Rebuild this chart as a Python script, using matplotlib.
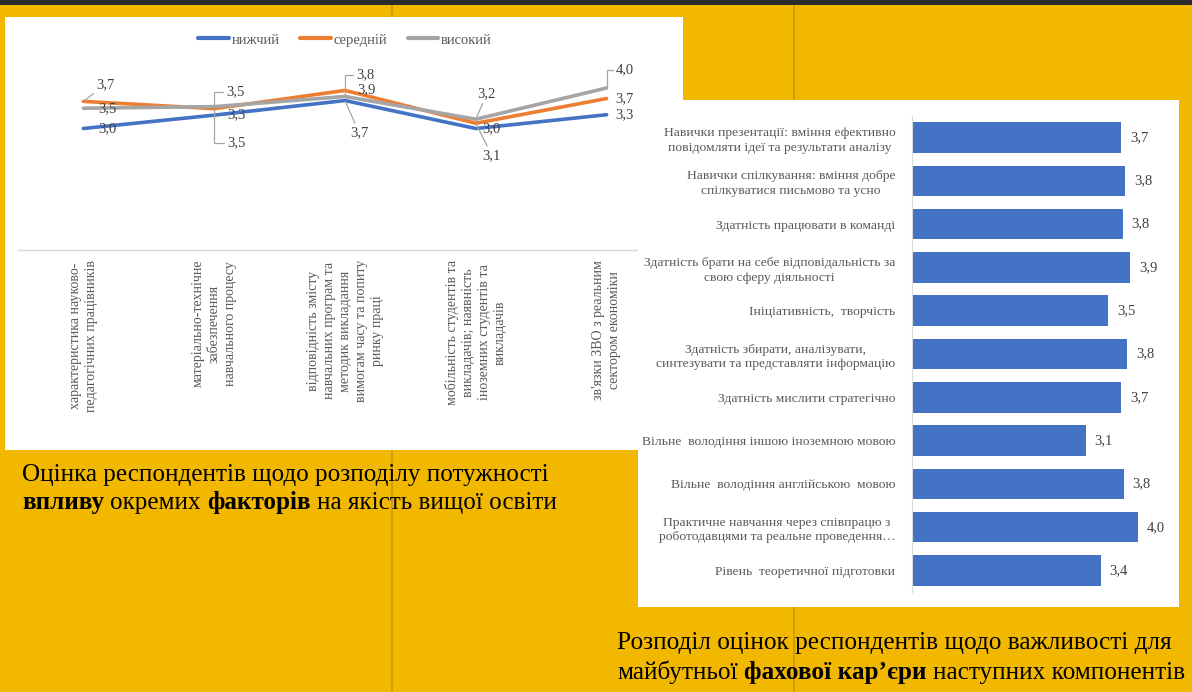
import matplotlib
matplotlib.use('Agg')
import matplotlib.pyplot as plt
from matplotlib.patches import Rectangle
from matplotlib.lines import Line2D

# slide size in pixels
W, H = 1192, 692

# ---- line chart: influence of factors on quality of higher education
factors = [
    "характеристика науково-\nпедагогічних працівників",
    "матеріально-технічне\nзабезпечення\nнавчального процесу",
    "відповідність змісту\nнавчальних програм та\nметодик викладання\nвимогам часу та попиту\nринку праці",
    "мобільність студентів та\nвикладачів; наявність\nіноземних студентів та\nвикладачів",
    "зв'язки ЗВО з реальним\nсектором економіки",
]
levels = ["нижчий", "середній", "високий"]
low = [3.0, 3.33, 3.69, 3.0, 3.34]
mid = [3.67, 3.49, 3.94, 3.13, 3.74]
high = [3.5, 3.54, 3.79, 3.23, 4.0]

# ---- bar chart: importance of components for future career
skills = [
    "Навички презентації: вміння ефективно\nповідомляти ідеї та результати аналізу",
    "Навички спілкування: вміння добре\nспілкуватися письмово та усно",
    "Здатність працювати в команді",
    "Здатність брати на себе відповідальність за\nсвою сферу діяльності",
    "Ініціативність,  творчість",
    "Здатність збирати, аналізувати,\nсинтезувати та представляти інформацію",
    "Здатність мислити стратегічно",
    "Вільне  володіння іншою іноземною мовою",
    "Вільне  володіння англійською  мовою",
    "Практичне навчання через співпрацю з\nроботодавцями та реальне проведення…",
    "Рівень  теоретичної підготовки",
]
importance = [3.73, 3.80, 3.76, 3.89, 3.50, 3.84, 3.74, 3.10, 3.78, 4.04, 3.37]

caption_left = [
    [("Оцінка респондентів щодо розподілу потужності", False)],
    [("впливу", True), ("окремих", False), ("факторів", True), ("на якість вищої освіти", False)],
]
caption_right = [
    [("Розподіл оцінок респондентів щодо важливості для", False)],
    [("майбутньої", False), ("фахової кар’єри", True), ("наступних компонентів", False)],
]

# label placement for the line chart (pixel offsets from point, leader style)
label_off = {
    "нижчий": ([(24, 0), (22, 0), (14, -32), (16, 0), (18, 0)],
               [None, None, "line", None, None]),
    "середній": ([(22, 17), (22, -34), (21, 1), (16, -32), (18, 0)],
                 ["line", "angle", None, "line", None]),
    "високий": ([(24, 0), (21, 15), (20, 22), (11, 25), (18, 18)],
                [None, "angle", "angle", "line", "angle"]),
}

YELLOW = "#F2B800"
SERIF = "Liberation Serif"
GREY_TXT = "#595959"
LBL_TXT = "#404040"
colors = {"нижчий": "#4472C4", "середній": "#ED7D31", "високий": "#A5A5A5"}


def fig_rect(x0, y0, x1, y1):
    """pixel box (top-left origin) -> figure fraction rect"""
    return [x0 / W, 1 - y1 / H, (x1 - x0) / W, (y1 - y0) / H]


def fmt(v):
    return f"{v:.1f}".replace(".", ",")


fig = plt.figure(figsize=(W / 100, H / 100), dpi=100)
fig.patch.set_facecolor(YELLOW)

# slide decoration
fig.add_artist(Rectangle((0, 1 - 5 / H), 1, 5 / H, transform=fig.transFigure,
                         facecolor="#2B2B2B", edgecolor="none", zorder=0.1))
for vx in (392, 794):
    fig.add_artist(Line2D([vx / W, vx / W], [0, 1], transform=fig.transFigure,
                          color="#B88F10", lw=1.2, alpha=0.7, zorder=0.05))

# white chart boxes
r = fig_rect(5, 17, 683, 450)
fig.add_artist(Rectangle((r[0], r[1]), r[2], r[3], transform=fig.transFigure,
                         facecolor="white", edgecolor="none", zorder=0.5))
r = fig_rect(638, 100, 1179, 607)
fig.add_artist(Rectangle((r[0], r[1]), r[2], r[3], transform=fig.transFigure,
                         facecolor="white", edgecolor="none", zorder=2))

# ---------------- line chart ----------------
ax = fig.add_axes(fig_rect(18, 47.5, 672, 250))
ax.set_zorder(1)
ax.patch.set_visible(False)
xs = list(range(len(factors)))
series = {"нижчий": low, "середній": mid, "високий": high}
for name in levels:
    ax.plot(xs, series[name], color=colors[name], lw=2.6, label=name,
            solid_capstyle="round", solid_joinstyle="round")

for name in levels:
    offs, leads = label_off[name]
    for x, v, (dx, dy), lead in zip(xs, series[name], offs, leads):
        kw = {}
        if lead == "line":
            kw["arrowprops"] = dict(arrowstyle="-", color="#A6A6A6", lw=0.9,
                                    shrinkA=0, shrinkB=1)
        elif lead == "angle":
            kw["arrowprops"] = dict(arrowstyle="-", color="#A6A6A6", lw=0.9,
                                    shrinkA=0, shrinkB=1,
                                    connectionstyle="angle,angleA=0,angleB=90,rad=0")
        ax.annotate(fmt(v), (x, v), xytext=(dx, dy), textcoords="offset pixels",
                    ha="center", va="center", fontsize=10.5, family=SERIF,
                    color=LBL_TXT, **kw)

ax.set_xlim(-0.5, len(factors) - 0.5)
ax.set_ylim(0, 5)
ax.set_yticks([])
ax.set_xticks(xs)
ax.set_xticklabels(factors, rotation=90, va="top", ha="center", fontsize=10,
                   family=SERIF, color=GREY_TXT, linespacing=1.3)
for t in ax.get_xticklabels():
    t.set_multialignment("center")
ax.tick_params(axis="x", length=0, pad=7)
for s in ("top", "right", "left"):
    ax.spines[s].set_visible(False)
ax.spines["bottom"].set_color("#D9D9D9")
ax.spines["bottom"].set_linewidth(1)

leg = ax.legend(loc="center", bbox_to_anchor=(345 / W, 1 - 40 / H),
                bbox_transform=fig.transFigure, ncol=3, frameon=False,
                handlelength=2.1, handletextpad=0.2, columnspacing=1.4,
                prop={"family": SERIF, "size": 10.5}, labelcolor=GREY_TXT)
for h in leg.get_lines():
    h.set_linewidth(3)

# ---------------- bar chart ----------------
bx = fig.add_axes(fig_rect(912, 115.85, 1150, 592.15))
bx.set_zorder(3)
bx.patch.set_visible(False)
ys = list(range(len(skills)))
bx.barh(ys, importance, height=0.706, color="#4472C4")
for y, v in zip(ys, importance):
    bx.annotate(fmt(v), (v, y), xytext=(9, 0), textcoords="offset pixels",
                ha="left", va="center", fontsize=10.5, family=SERIF, color=LBL_TXT)
bx.set_xlim(0, 238 / 56)
bx.set_ylim(len(skills) - 0.5, -0.5)
bx.set_xticks([])
bx.set_yticks(ys)
bx.set_yticklabels(skills, fontsize=9.7, family=SERIF, color=GREY_TXT,
                   linespacing=1.3)
for t in bx.get_yticklabels():
    t.set_multialignment("center")
bx.tick_params(axis="y", length=0, pad=12)
for s in ("top", "right", "bottom"):
    bx.spines[s].set_visible(False)
bx.spines["left"].set_color("#D9D9D9")

# ---------------- captions with mixed bold ----------------
renderer = fig.canvas.get_renderer()


def rich_lines(x0, baselines, lines, size):
    probe = fig.text(0, 0, "x x", fontsize=size, family=SERIF)
    probe2 = fig.text(0, 0, "xx", fontsize=size, family=SERIF)
    gap = (probe.get_window_extent(renderer).width
           - probe2.get_window_extent(renderer).width)
    probe.remove()
    probe2.remove()
    for yb, parts in zip(baselines, lines):
        x = x0
        for txt, bold in parts:
            t = fig.text(x / W, 1 - yb / H, txt, fontsize=size, family=SERIF,
                         fontweight="bold" if bold else "normal",
                         ha="left", va="baseline", color="black", zorder=5)
            x += t.get_window_extent(renderer).width + gap


rich_lines(22, [481, 509], caption_left, 18.1)
rich_lines(617, [649, 679], caption_right, 18.2)

fig.savefig("out.png", dpi=100, facecolor=fig.get_facecolor())
